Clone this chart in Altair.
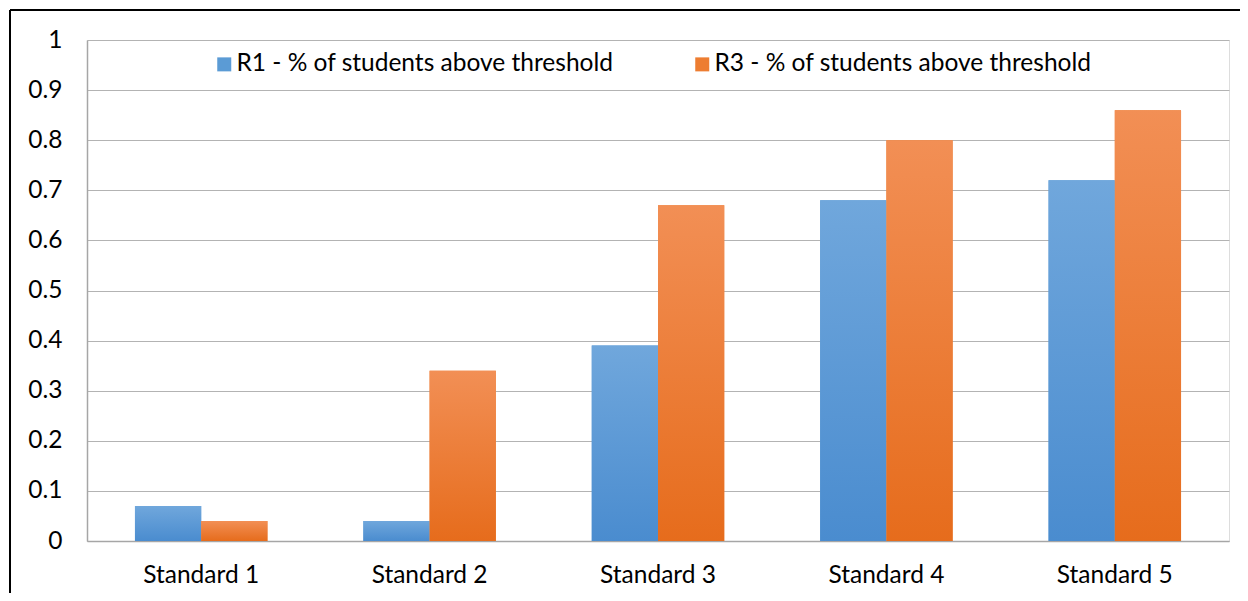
import altair as alt
import pandas as pd

categories = ["Standard 1", "Standard 2", "Standard 3", "Standard 4", "Standard 5"]
series = ["R1 - % of students above threshold", "R3 - % of students above threshold"]
r1_values = [0.07, 0.04, 0.39, 0.68, 0.72]
r3_values = [0.04, 0.34, 0.67, 0.80, 0.86]
y_ticks = [0, 0.1, 0.2, 0.3, 0.4, 0.5, 0.6, 0.7, 0.8, 0.9, 1.0]

rows = []
for c, a, b in zip(categories, r1_values, r3_values):
    rows.append({"category": c, "series": series[0], "value": a})
    rows.append({"category": c, "series": series[1], "value": b})
df = pd.DataFrame(rows)

FONT = "Lato"
FS = 24.5
blue_grad = alt.Gradient(gradient="linear", x1=0, y1=0, x2=0, y2=1,
                         stops=[alt.GradientStop(color="#70a7dc", offset=0),
                                alt.GradientStop(color="#4a8ccf", offset=1)])
orange_grad = alt.Gradient(gradient="linear", x1=0, y1=0, x2=0, y2=1,
                           stops=[alt.GradientStop(color="#f28f55", offset=0),
                                  alt.GradientStop(color="#e66c1c", offset=1)])

x_enc = alt.X("category:N", sort=categories, title=None,
              scale=alt.Scale(paddingInner=0.42, paddingOuter=0.21),
              axis=alt.Axis(labelAngle=0, ticks=False, labelPadding=22,
                            labelFontSize=FS, labelFont=FONT, labelColor="#000000",
                            domainColor="#a6a6a6", domainWidth=1.5, grid=False))
y_enc = alt.Y("value:Q", title=None,
              scale=alt.Scale(domain=[0, 1], nice=False),
              axis=alt.Axis(values=y_ticks, format=".1~f", ticks=False, labelPadding=25,
                            labelFontSize=FS, labelFont=FONT, labelColor="#000000",
                            domainColor="#a6a6a6", domainWidth=1.5,
                            gridColor="#b3b3b3", gridWidth=1.2))
xoff = alt.XOffset("series:N", sort=series, scale=alt.Scale(domain=series, paddingInner=0))

base = alt.Chart(df)

legend_bars = base.mark_bar().encode(
    x=x_enc, y=y_enc, xOffset=xoff,
    color=alt.Color("series:N", sort=series,
                    scale=alt.Scale(domain=series, range=["#5b9bd5", "#ed7d31"]),
                    legend=alt.Legend(title=None, orient="none", legendX=125, legendY=12,
                                      direction="horizontal", symbolType="square",
                                      symbolSize=196, symbolStrokeWidth=0,
                                      labelFontSize=FS, labelFont=FONT, labelColor="#000000",
                                      labelOffset=0, columnPadding=76, padding=0,
                                      labelLimit=600)),
)

r1_bars = base.transform_filter(alt.datum.series == series[0]).mark_bar(color=blue_grad).encode(
    x=x_enc, y=y_enc, xOffset=xoff)
r3_bars = base.transform_filter(alt.datum.series == series[1]).mark_bar(color=orange_grad).encode(
    x=x_enc, y=y_enc, xOffset=xoff)

frame_left = alt.Chart(pd.DataFrame({"a": [0]})).mark_rule(color="#000000", strokeWidth=2).encode(
    x=alt.value(-77), y=alt.value(-30), y2=alt.value(600))
frame_top = alt.Chart(pd.DataFrame({"a": [0]})).mark_rule(color="#000000", strokeWidth=2).encode(
    x=alt.value(-77), x2=alt.value(1200), y=alt.value(-30))

chart = alt.layer(legend_bars, r1_bars, r3_bars, frame_left, frame_top).properties(
    width=1142, height=501,
    autosize=alt.AutoSizeParams(type="none"),
    padding={"left": 79, "top": 32, "right": 11, "bottom": 52},
).configure_view(stroke=None).configure(font=FONT)

chart.save("out.html", embed_options={"renderer": "svg", "actions": False})
